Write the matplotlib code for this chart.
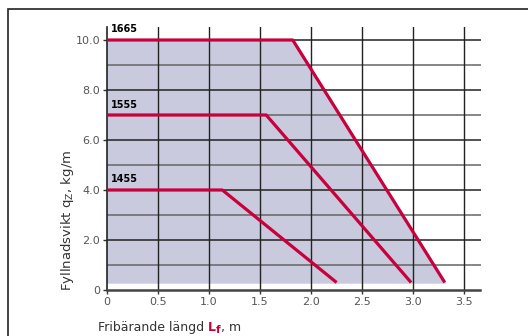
import matplotlib.pyplot as plt
from matplotlib.patches import Rectangle

# load curves: (length m, load kg/m) corner points per profile
profiles = ["1665", "1555", "1455"]
curve_x = [[0, 1.82, 3.31], [0, 1.56, 2.98], [0, 1.13, 2.25]]
curve_y = [[10.0, 10.0, 0.3], [7.0, 7.0, 0.3], [4.0, 4.0, 0.3]]

x_ticks = [0, 0.5, 1.0, 1.5, 2.0, 2.5, 3.0, 3.5]
x_labels = ["0", "0.5", "1.0", "1.5", "2.0", "2.5", "3.0", "3.5"]
y_ticks = [0, 2, 4, 6, 8, 10]
y_labels = ["0", "2.0", "4.0", "6.0", "8.0", "10.0"]

red = "#c8003c"
fill = "#c9cadd"
W, H = 528, 336

fig = plt.figure(figsize=(W / 100, H / 100), dpi=100)
fig.patches.append(Rectangle((8 / W, -0.1), 1.2, 1.1 - 9 / H,
                             transform=fig.transFigure, fill=False,
                             edgecolor="#222222", linewidth=1.2))
ax = fig.add_axes([107 / W, 1 - 290 / H, (480.5 - 107) / W, (290 - 27) / H])

# shaded envelope under the largest profile
ax.fill_between(curve_x[0], curve_y[0], 0.3, color=fill, zorder=1)

for v in range(1, 11):
    ax.axhline(v, color="#222222" if v % 2 == 0 else "#666666", lw=1.1, zorder=2)
for v in x_ticks[1:]:
    ax.axvline(v, color="#222222", lw=1.0, zorder=2)

for name, xs, ys in zip(profiles, curve_x, curve_y):
    ax.plot(xs, ys, color=red, lw=2.3, solid_capstyle="butt", zorder=3)
    ax.text(0.04, ys[0] + 0.22, name, fontsize=7, fontweight="bold",
            ha="left", va="bottom", zorder=4)

ax.set_xlim(0, 3.66)
ax.set_ylim(0, 10.52)
ax.set_xticks(x_ticks, x_labels)
ax.set_yticks(y_ticks, y_labels)
ax.tick_params(labelsize=8, labelcolor="#555555", length=3, width=1, color="#333333", pad=2)
for s in ["top", "right"]:
    ax.spines[s].set_visible(False)
ax.spines["left"].set_color("#222222")
ax.spines["left"].set_linewidth(1.2)
ax.spines["bottom"].set_color("#444444")
ax.spines["bottom"].set_linewidth(1.8)
ax.set_facecolor("white")

fig.text(68 / W, 1 - 220 / H, "Fyllnadsvikt q$_\\mathregular{Z}$, kg/m", fontsize=9.5,
         color="#333333", rotation=90, ha="center", va="center")

# x label: plain text with a bold red L_f in the middle
fig.canvas.draw()
x0 = 98
base = 1 - 331 / H
parts = [("Fribärande längd ", 9, "#333333", "normal", 0),
         ("L", 9, red, "bold", 0),
         ("f", 7.5, red, "bold", -2),
         (", m", 9, "#333333", "normal", 0)]
for txt, size, col, weight, dy in parts:
    t = fig.text(x0 / W, base + dy / H, txt, fontsize=size, color=col,
                 fontweight=weight, ha="left", va="baseline")
    x0 = t.get_window_extent().x1

fig.savefig("out.png", dpi=100)
